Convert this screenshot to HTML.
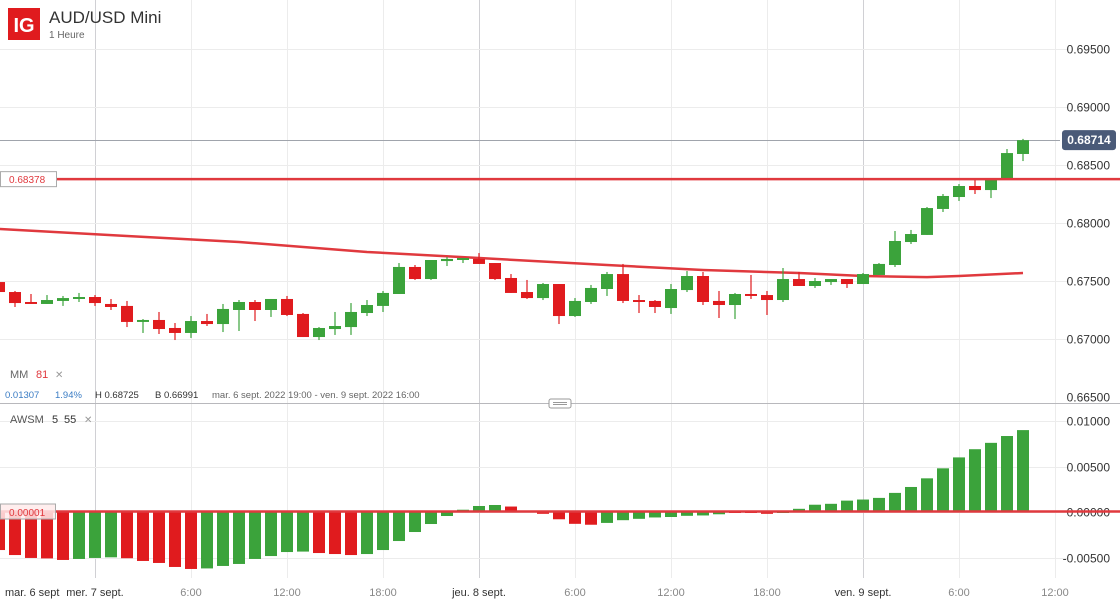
<!DOCTYPE html>
<html><head><meta charset="utf-8">
<style>
body{margin:0;background:#fff;font-family:"Liberation Sans",sans-serif;}
#wrap{position:relative;width:1120px;height:602px;overflow:hidden;}
svg{position:absolute;left:0;top:0;}
</style></head>
<body>
<div id="wrap">
<svg id="chart" width="1120" height="602"></svg>
</div>
<script>
const openP=[0.67491,0.67405,0.67319,0.67302,0.67328,0.67345,0.67362,0.67302,0.67285,0.67147,0.67164,0.67095,0.67052,0.67155,0.67129,0.67250,0.67319,0.67250,0.67345,0.67216,0.67017,0.67086,0.67103,0.67224,0.67285,0.67388,0.67621,0.67517,0.67672,0.67681,0.67690,0.67655,0.67526,0.67405,0.67353,0.67474,0.67198,0.67319,0.67431,0.67560,0.67336,0.67328,0.67267,0.67422,0.67543,0.67328,0.67293,0.67388,0.67379,0.67336,0.67517,0.67457,0.67491,0.67517,0.67474,0.67552,0.67638,0.67836,0.67897,0.68121,0.68224,0.68319,0.68284,0.68379,0.68595];
const highP=[0.67500,0.67414,0.67388,0.67379,0.67371,0.67397,0.67379,0.67345,0.67328,0.67172,0.67233,0.67138,0.67198,0.67216,0.67302,0.67336,0.67336,0.67345,0.67371,0.67224,0.67103,0.67233,0.67310,0.67336,0.67414,0.67655,0.67638,0.67681,0.67707,0.67698,0.67741,0.67655,0.67560,0.67509,0.67483,0.67474,0.67353,0.67466,0.67578,0.67647,0.67379,0.67336,0.67474,0.67586,0.67578,0.67414,0.67397,0.67552,0.67414,0.67612,0.67578,0.67526,0.67517,0.67517,0.67569,0.67655,0.67931,0.67940,0.68138,0.68250,0.68336,0.68379,0.68388,0.68638,0.68725];
const lowP=[0.67397,0.67276,0.67302,0.67302,0.67285,0.67319,0.67285,0.67250,0.67103,0.67052,0.67043,0.66991,0.67009,0.67112,0.67060,0.67069,0.67155,0.67190,0.67198,0.67017,0.66991,0.67035,0.67035,0.67198,0.67233,0.67388,0.67509,0.67509,0.67629,0.67655,0.67647,0.67509,0.67397,0.67345,0.67336,0.67129,0.67190,0.67302,0.67371,0.67310,0.67224,0.67224,0.67216,0.67405,0.67293,0.67181,0.67172,0.67345,0.67207,0.67319,0.67457,0.67440,0.67466,0.67440,0.67474,0.67552,0.67621,0.67819,0.67897,0.68095,0.68190,0.68250,0.68215,0.68379,0.68534];
const closeP=[0.67405,0.67310,0.67302,0.67336,0.67353,0.67362,0.67310,0.67276,0.67147,0.67164,0.67086,0.67052,0.67155,0.67129,0.67259,0.67319,0.67250,0.67345,0.67207,0.67017,0.67095,0.67112,0.67233,0.67293,0.67397,0.67621,0.67517,0.67681,0.67690,0.67698,0.67647,0.67517,0.67397,0.67353,0.67474,0.67198,0.67328,0.67440,0.67560,0.67328,0.67319,0.67276,0.67431,0.67543,0.67319,0.67293,0.67388,0.67371,0.67336,0.67517,0.67457,0.67500,0.67517,0.67474,0.67560,0.67647,0.67845,0.67905,0.68129,0.68233,0.68319,0.68284,0.68388,0.68603,0.68714];
const maIdx=[0,8,15,23,30,38,44,50,54,58,60,64];
const maVal=[0.67948,0.67888,0.67836,0.67750,0.67698,0.67638,0.67595,0.67569,0.67543,0.67534,0.67543,0.67569];
const awsm=[-0.00418,-0.00473,-0.00505,-0.0051,-0.00527,-0.00516,-0.00505,-0.00498,-0.00508,-0.00538,-0.0056,-0.00604,-0.00626,-0.0062,-0.00593,-0.00571,-0.00516,-0.00484,-0.0044,-0.00435,-0.00451,-0.00462,-0.00473,-0.00462,-0.00418,-0.00319,-0.0022,-0.00132,-0.00044,0.00025,0.00066,0.00077,0.0006,0.0001,-0.0002,-0.0008,-0.0013,-0.0014,-0.0012,-0.0009,-0.00075,-0.0006,-0.00055,-0.00042,-0.00038,-0.00025,-0.00006,-0.00008,-0.0002,-0.00002,0.00035,0.0008,0.0009,0.00125,0.00137,0.00155,0.0021,0.00275,0.0037,0.0048,0.006,0.0069,0.0076,0.00835,0.009];
const awsmUp="rrrrrgggrrrrrgggggggrrrgggggggggrrrrrrggggggggrrrgggggggggggggggg";
const priceTicks=[0.665,0.670,0.675,0.680,0.685,0.690,0.695];
const priceTickLabels=["0.66500","0.67000","0.67500","0.68000","0.68500","0.69000","0.69500"];
const awsmTicks=[-0.005,0,0.005,0.01];
const awsmTickLabels=["-0.00500","0.00000","0.00500","0.01000"];
const timeIdx=[0,6,12,18,24,30,36,42,48,54,60,66];
const timeLabels=["mar. 6 sept","mer. 7 sept.","6:00","12:00","18:00","jeu. 8 sept.","6:00","12:00","18:00","ven. 9 sept.","6:00","12:00"];
const hLine=0.68378, lastPrice=0.68714;

const NS="http://www.w3.org/2000/svg";
const svg=document.getElementById('chart');
function xi(k){return -1+16*k;}
function yP(p){return 281-(p-0.675)*11600;}
function yA(v){return 512-v*9100;}
function mk(tag,attrs,parent){const e=document.createElementNS(NS,tag);for(const k in attrs)e.setAttribute(k,attrs[k]);(parent||svg).appendChild(e);return e;}
function txt(s,attrs,parent){const e=mk('text',attrs,parent);e.textContent=s;return e;}

const gv=mk('g',{});


for(let i=1;i<timeIdx.length;i++){
  const x=xi(timeIdx[i])+0.5;
  const dark=timeLabels[i].indexOf('sept')>=0;
  const l=mk('line',{x1:x,x2:x,y1:0,y2:578,stroke:dark?'#d0d0d4':'#ececec','stroke-width':1},gv);
  
  
}
const gp=mk('g',{});


priceTicks.forEach((p,i)=>{
  const y=Math.round(yP(p))+0.5;
  if(i>0){const l=mk('line',{x1:0,x2:1068,y1:y,y2:y,stroke:'#ececec'},gp);
  
  }
  const t=txt(priceTickLabels[i],{x:1110,y:y+4,'font-size':12,fill:'#333','text-anchor':'end'},gp);
  
  
});
const ga=mk('g',{});


awsmTicks.forEach((v,i)=>{
  const y=Math.round(yA(v))+0.5;
  const l=mk('line',{x1:0,x2:1068,y1:y,y2:y,stroke:'#ececec'},ga);
  
  
  const t=txt(awsmTickLabels[i],{x:1110,y:y+4,'font-size':12,fill:'#333','text-anchor':'end'},ga);
  
  
});
const sep=mk('line',{x1:0,x2:1120,y1:403.5,y2:403.5,stroke:'#b8b8bc'});


const hd=mk('rect',{x:549,y:399,width:22,height:9,rx:2,fill:'#fff',stroke:'#999'});


mk('line',{x1:553,x2:567,y1:402.5,y2:402.5,stroke:'#999'});
mk('line',{x1:553,x2:567,y1:404.5,y2:404.5,stroke:'#999'});

const lp=mk('line',{x1:0,x2:1060,y1:Math.round(yP(lastPrice))+0.5,y2:Math.round(yP(lastPrice))+0.5,stroke:'#a0a4ac'});



let d='';
maIdx.forEach((k,i)=>{d+=(i?'L':'M')+xi(k)+','+yP(maVal[i]).toFixed(1);});
const ma=mk('path',{d:d,fill:'none',stroke:'#e0393e','stroke-width':2.5,'stroke-linejoin':'round'});



const gc=mk('g',{});


openP.forEach((o,i)=>{
  const c=closeP[i],up=c>=o,col=up?'#3ba33b':'#e01b1e';
  const x=xi(i);
  const g=mk('g',{},gc);
  
  
  mk('line',{x1:x,x2:x,y1:yP(highP[i]),y2:yP(lowP[i]),stroke:col,'stroke-width':1.2},g);
  const t=yP(Math.max(o,c)),b=yP(Math.min(o,c));
  mk('rect',{x:x-6,y:t,width:12,height:Math.max(b-t,1.5),fill:col},g);
});

const hl=mk('line',{x1:0,x2:1120,y1:yP(hLine),y2:yP(hLine),stroke:'#e0393e','stroke-width':2.5});


const hlb=mk('rect',{x:0.5,y:yP(hLine)-7.5,width:56,height:15,fill:'#fff',stroke:'#aaa'});


const hlt=txt('0.68378',{x:9,y:yP(hLine)+4,'font-size':10,fill:'#e0393e'});



const gb=mk('g',{});


awsm.forEach((v,i)=>{
  const x=xi(i),y0=yA(0),y1=yA(v);
  const r=mk('rect',{x:x-6,y:Math.min(y0,y1),width:12,height:Math.max(Math.abs(y1-y0),1),fill:awsmUp[i]==='r'?'#e01b1e':'#3ba33b'},gb);
  
  
});
const zl=mk('line',{x1:0,x2:1120,y1:yA(0)-0.5,y2:yA(0)-0.5,stroke:'#e0393e','stroke-width':2.5});


const zb=mk('rect',{x:0.5,y:504,width:55,height:15,fill:'rgba(255,235,235,0.85)',stroke:'#aaa'});


const zt=txt('0.00001',{x:9,y:516,'font-size':10,fill:'#e0393e'});



timeIdx.forEach((k,i)=>{
  const isDate=timeLabels[i].indexOf('sept')>=0;
  const x=i===0?5:xi(k);
  const t=txt(timeLabels[i],{x:x,y:596,'font-size':11,fill:isDate?'#333':'#888','text-anchor':i===0?'start':'middle'});
  
  
});
const ly=yP(lastPrice);
const pb=mk('rect',{x:1062,y:ly-10,width:54,height:20,rx:3,fill:'#4a5a78'});


const pt=txt('0.68714',{x:1089,y:ly+4,'font-size':12,'font-weight':'bold',fill:'#fff','text-anchor':'middle'});



const lg=mk('rect',{x:8,y:8,width:32,height:32,fill:'#e01b1e'});


const lgt=txt('IG',{x:24,y:32,'font-size':20,'font-weight':'bold',fill:'#fff','text-anchor':'middle'});


const tt=txt('AUD/USD Mini',{x:49,y:23,'font-size':17,fill:'#333'});


const st=txt('1 Heure',{x:49,y:38,'font-size':10,fill:'#666'});



const m1=txt('MM',{x:10,y:378,'font-size':11,fill:'#666'});


const m2=txt('81',{x:36,y:378,'font-size':11,fill:'#e0393e'});


const m3=txt('✕',{x:55,y:378,'font-size':10,fill:'#999'});


const info=[['0.01307',5,'#3a7cc4'],['1.94%',55,'#3a7cc4'],['H 0.68725',95,'#333'],['B 0.66991',155,'#333'],['mar. 6 sept. 2022 19:00 - ven. 9 sept. 2022 16:00',212,'#666']];
info.forEach(a=>{const t=txt(a[0],{x:a[1],y:398,'font-size':9.5,fill:a[2]});

});
const a1=txt('AWSM',{x:10,y:423,'font-size':11,fill:'#555'});


const a3=txt('5',{x:52,y:423,'font-size':11,fill:'#333'});


const a4=txt('55',{x:64,y:423,'font-size':11,fill:'#333'});


const a2=txt('✕',{x:84,y:423,'font-size':10,fill:'#999'});


</script>
</body></html>
